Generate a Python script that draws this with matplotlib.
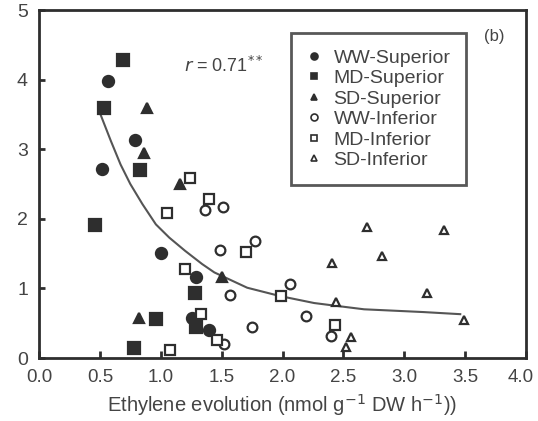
import matplotlib
matplotlib.use("Agg")
from matplotlib import pyplot as plt
from matplotlib.lines import Line2D
from matplotlib.transforms import ScaledTranslation

plt.rcParams['font.family'] = ['Liberation Sans', 'DejaVu Sans']

# values
ww_sup_x = [0.57, 0.79, 0.52, 1.00, 1.29, 1.26, 1.40]
ww_sup_y = [3.98, 3.13, 2.72, 1.51, 1.17, 0.58, 0.40]

md_sup_x = [0.69, 0.53, 0.83, 0.46, 1.28, 0.96, 0.78, 1.29]
md_sup_y = [4.28, 3.59, 2.70, 1.91, 0.93, 0.56, 0.15, 0.44]

sd_sup_x = [0.89, 0.86, 1.16, 0.82, 1.50]
sd_sup_y = [3.59, 2.95, 2.50, 0.58, 1.17]

ww_inf_x = [1.36, 1.51, 1.77, 1.49, 1.57, 2.06, 2.19, 1.75, 1.52, 2.40]
ww_inf_y = [2.12, 2.17, 1.68, 1.55, 0.90, 1.07, 0.61, 0.44, 0.20, 0.32]

md_inf_x = [1.24, 1.05, 1.40, 1.70, 1.20, 1.99, 1.33, 1.08, 1.46, 2.43]
md_inf_y = [2.58, 2.09, 2.28, 1.53, 1.28, 0.89, 0.63, 0.11, 0.26, 0.47]

sd_inf_x = [2.69, 3.33, 2.82, 2.41, 3.19, 2.44, 3.49, 2.56, 2.52]
sd_inf_y = [1.88, 1.84, 1.47, 1.36, 0.93, 0.81, 0.54, 0.30, 0.16]

# fitted curve as drawn in the figure
fit_x = [0.49, 0.505, 0.59, 0.67, 0.75, 0.85, 0.96, 1.07, 1.20, 1.34, 1.44,
         1.71, 1.98, 2.26, 2.44, 2.67, 3.16, 3.46]
fit_y = [3.56, 3.50, 3.12, 2.78, 2.50, 2.21, 1.92, 1.73, 1.54, 1.35, 1.23,
         1.01, 0.89, 0.79, 0.75, 0.70, 0.66, 0.63]

labels = ['WW-Superior', 'MD-Superior', 'SD-Superior',
          'WW-Inferior', 'MD-Inferior', 'SD-Inferior']

ink = '#2e2e2e'
txt = '#444444'

fig = plt.figure(figsize=(5.38, 4.21), dpi=100)
ax = fig.add_axes([0.0725, 0.1496, 0.9052, 0.8266])

ax.plot(fit_x, fit_y, color='#555555', lw=1.5, zorder=1)

series = [
    (ww_sup_x, ww_sup_y, 'o', True),
    (md_sup_x, md_sup_y, 's', True),
    (sd_sup_x, sd_sup_y, '^', True),
    (ww_inf_x, ww_inf_y, 'o', False),
    (md_inf_x, md_inf_y, 's', False),
    (sd_inf_x, sd_inf_y, '^', False),
]
handles = []
for (xs, ys, m, filled), lab in zip(series, labels):
    fc = ink if filled else 'white'
    ms = 8 if filled else 7
    if m == '^':
        ms -= 1
    ax.plot(xs, ys, linestyle='none', marker=m, markersize=ms,
            markerfacecolor=fc, markeredgecolor=ink, markeredgewidth=1.6, zorder=3)
    handles.append(Line2D([], [], linestyle='none', marker=m, markersize=5,
                          markerfacecolor=fc, markeredgecolor=ink, markeredgewidth=1.2))

ax.set_xlim(0, 4)
ax.set_ylim(0, 5)
ax.set_xticks([0.0, 0.5, 1.0, 1.5, 2.0, 2.5, 3.0, 3.5, 4.0])
ax.set_xticklabels(['%.1f' % v for v in ax.get_xticks()])
ax.set_yticks([0, 1, 2, 3, 4, 5])

for s in ax.spines.values():
    s.set_linewidth(2)
    s.set_color(ink)
ax.tick_params(axis='x', direction='in', length=5, width=2, color=ink,
               labelsize=13.5, labelcolor=txt, pad=8)
ax.tick_params(axis='y', direction='in', length=4, width=2, color=ink,
               labelsize=14, labelcolor=txt, pad=8)

# last x label sits against the figure edge, nudge it in a little
last = ax.get_xticklabels()[-1]
last.set_transform(last.get_transform() + ScaledTranslation(-4 / 72, 0, fig.dpi_scale_trans))

ax.set_xlabel('Ethylene evolution (nmol g$^{-1}$ DW h$^{-1}$))',
              fontsize=14.5, color=txt, labelpad=4)

ax.text(1.19, 4.19, r'$r$ = 0.71$^{**}$', fontsize=13, color=txt, va='center')
ax.text(3.74, 4.62, '(b)', fontsize=12, color=txt, ha='center', va='center')

leg = ax.legend(handles, labels, loc='upper left', bbox_to_anchor=(0.517, 0.933),
                fontsize=14, frameon=True, fancybox=False, borderpad=0.8,
                labelspacing=0.15, handlelength=0.8, handletextpad=0.6,
                borderaxespad=0)
leg.get_frame().set_edgecolor(ink)
leg.get_frame().set_linewidth(2)
for t in leg.get_texts():
    t.set_color(txt)

fig.savefig('out.png', dpi=100)
